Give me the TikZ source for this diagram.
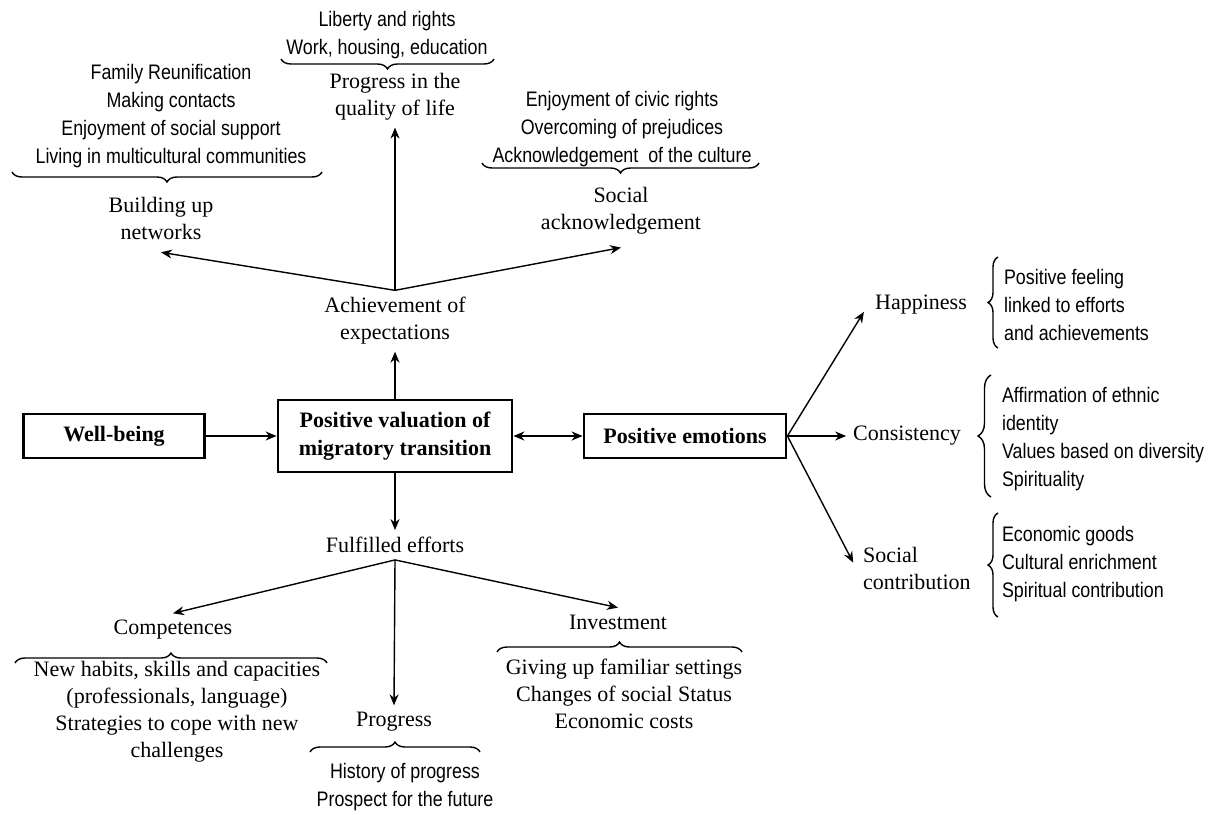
\documentclass[tikz,border=0pt]{standalone}
\usepackage{fontspec}
\setmainfont{Liberation Serif}
\newfontfamily\narrowsans[FakeStretch=0.85]{Liberation Sans}
\usetikzlibrary{arrows.meta,decorations.pathreplacing}

\tikzset{
  box/.style={draw,line width=1.4pt,font=\fontsize{11}{14}\selectfont\bfseries,align=center,inner sep=2pt},
  txt/.style={font=\fontsize{11}{13.5}\selectfont,align=center},
  lst/.style={font=\narrowsans\fontsize{10.5}{14}\selectfont,align=center},
  arr/.style={line width=0.7pt,-{Stealth[length=5.5pt,width=4.5pt]}},
  brc/.style={decorate,decoration={brace,amplitude=5pt},line width=0.7pt},
}

\begin{document}
\begin{tikzpicture}[x=0.5pt,y=-0.5pt]
  \useasboundingbox (0,0) rectangle (1220,814);
  % boxes
  \node[box,minimum width=90.5pt,minimum height=22pt] (wellbeing) at (114,436) {Well-being};
  \node[box,minimum width=117pt,minimum height=36pt] (valuation) at (395,436) {Positive valuation of\\migratory transition};
  \node[box,minimum width=101pt,minimum height=22pt] (emotions) at (685,436) {Positive emotions};
  % expectations
  \node[txt] (achieve) at (395,321) {Achievement of\\expectations};
  \node[txt] (quality) at (395,97) {Progress in the\\quality of life};
  \node[lst] (qualitylist) at (387,35) {Liberty and rights\\Work, housing, education};
  \node[txt] (networks) at (161,218) {Building up\\networks};
  \node[lst] (networklist) at (171,116) {Family Reunification\\Making contacts\\Enjoyment of social support\\Living in multicultural communities};
  \node[txt] (socialack) at (621,211) {Social\\acknowledgement};
  \node[lst] (acklist) at (622,129) {Enjoyment of civic rights\\Overcoming of prejudices\\Acknowledgement\ \ of the culture};
  % efforts
  \node[txt] (fulfilled) at (395,545) {Fulfilled efforts};
  \node[txt] (competences) at (173,630) {Competences};
  \node[txt] (complist) at (177,712) {New habits, skills and capacities\\(professionals, language)\\Strategies to cope with new\\challenges};
  \node[txt] (progress) at (394,722) {Progress};
  \node[lst] (proglist) at (405,787) {History of progress\\Prospect for the future};
  \node[txt] (investment) at (618,622) {Investment};
  \node[txt] (investlist) at (624,694) {Giving up familiar settings\\Changes of social Status\\Economic costs};
  % emotions
  \node[txt] (happiness) at (921,305) {Happiness};
  \node[lst,align=left,anchor=west] (happylist) at (997,305) {Positive feeling\\linked to efforts\\and achievements};
  \node[txt] (consistency) at (907,436) {Consistency};
  \node[lst,align=left,anchor=west] (conslist) at (995,439) {Affirmation of ethnic\\identity\\Values based on diversity\\Spirituality};
  \node[txt,align=left,anchor=west] (contribution) at (856,568) {Social\\contribution};
  \node[lst,align=left,anchor=west] (contriblist) at (995,564) {Economic goods\\Cultural enrichment\\Spiritual contribution};

  % arrows
  \draw[arr] (wellbeing) -- (valuation);
  \draw[line width=1pt,{Stealth[length=5.5pt,width=4.5pt]}-{Stealth[length=5.5pt,width=4.5pt]}] (valuation) -- (emotions);
  \draw[arr,line width=1.2pt] (valuation) -- (achieve);
  \draw[arr,line width=1.2pt] (valuation) -- (fulfilled);
  \draw[arr] (achieve.north) -- (quality);
  \draw[arr] (achieve.north) -- ([yshift=-3pt]networks.south);
  \draw[arr] (achieve.north) -- ([yshift=-3pt]socialack.south);
  \draw[arr] (fulfilled.south) -- (competences.north);
  \draw[arr] (fulfilled.south) -- (progress.north);
  \draw[arr] (fulfilled.south) -- (investment.north);
  \draw[arr,shorten >=4pt] (emotions.east) -- (happiness.west);
  \draw[arr] (emotions.east) -- (consistency.west);
  \draw[arr,shorten >=3pt] (emotions.east) -- (contribution.west);

  % braces
  \draw[brc] (494,59) -- (281,59);
  \draw[brc] (322,172) -- (12,172);
  \draw[brc] (759,163) -- (482,163);
  \draw[brc] (15,663) -- (327,663);
  \draw[brc] (310,752) -- (480,752);
  \draw[brc] (497,652) -- (742,652);
  \draw[brc] (998,348) -- (998,257);
  \draw[brc,decoration={amplitude=6.5pt}] (991,497) -- (991,375);
  \draw[brc] (998,617) -- (998,513);
\end{tikzpicture}
\end{document}
